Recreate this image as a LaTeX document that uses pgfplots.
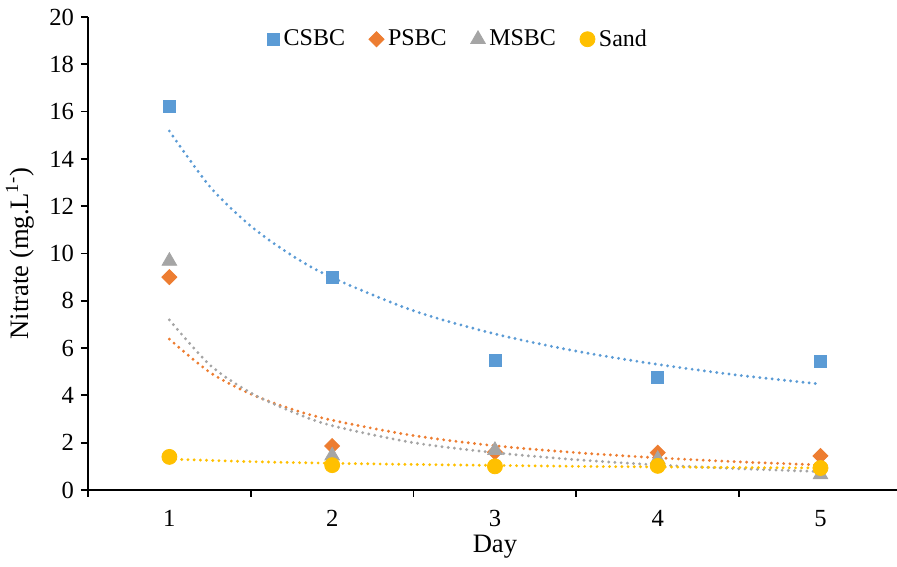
\documentclass[border=0pt]{standalone}
\usepackage{fontspec}
\setmainfont{Liberation Serif}
\usepackage{pgfplots}
\pgfplotsset{compat=1.18}
\definecolor{cblue}{HTML}{5B9BD5}
\definecolor{corange}{HTML}{ED7D31}
\definecolor{cgray}{HTML}{A5A5A5}
\definecolor{cgold}{HTML}{FFC000}
\tikzset{trend/.style={line width=1.6pt, line cap=round, dash pattern=on 0pt off 3.1pt, smooth}}
\begin{document}
\begin{tikzpicture}
\begin{axis}[
  scale only axis, width=404.5pt, height=236.5pt,
  xmin=0.5, xmax=5.47, ymin=0, ymax=20,
  axis x line=bottom, axis y line=left,
  axis line style={-, line width=0.9pt, black},
  xtick={1,2,3,4,5}, minor xtick={0.5,1.5,2.5,3.5,4.5},
  ytick={0,2,...,20},
  tick align=outside, major tick length=3.5pt, minor tick length=3.5pt,
  tick style={black, line width=0.9pt},
  major x tick style={draw=none},
  x tick label style={yshift=-3pt},
  font=\fontsize{12}{14}\selectfont,
  ticklabel style={font=\fontsize{12.3}{14}\selectfont},
  /pgf/number format/assume math mode=true,
  xlabel={Day}, ylabel={Nitrate (mg.L\textsuperscript{1-})},
  xlabel style={at={(axis description cs:0.503,-0.1205)}, anchor=center, font=\fontsize{13.3}{15}\selectfont},
  ylabel style={at={(axis description cs:-0.084,0.5)}, anchor=center, font=\fontsize{13.3}{15}\selectfont},
  legend style={draw=none, fill=none, at={(axis description cs:0.459,0.953)}, anchor=center,
    legend columns=4, font=\fontsize{12}{14}\selectfont,
    /tikz/every even column/.append style={column sep=10pt}},
  legend image code/.code={\draw[mark repeat=2,mark phase=2,#1] plot coordinates {(0pt,0pt) (4pt,0pt) (8pt,0pt)};},
]
% trendlines (power fits)
\addplot[cblue, trend, forget plot] coordinates {(1,15.18) (1.25,12.82) (1.5,11.16) (1.75,9.93) (2,8.98) (2.5,7.58) (3,6.60) (3.5,5.87) (4,5.31) (4.5,4.85) (5,4.48)};
\addplot[corange, trend, forget plot] coordinates {(1,6.38) (1.25,4.97) (1.5,4.06) (1.75,3.42) (2,2.95) (2.5,2.30) (3,1.87) (3.5,1.58) (4,1.36) (4.5,1.19) (5,1.06)};
\addplot[cgray, trend, forget plot] coordinates {(1,7.19) (1.25,5.28) (1.5,4.11) (1.75,3.32) (2,2.72) (2.5,2.0) (3,1.58) (3.5,1.28) (4,1.06) (4.5,0.90) (5,0.78)};
\addplot[cgold, trend, forget plot] coordinates {(1,1.31) (1.5,1.20) (2,1.13) (2.5,1.08) (3,1.04) (3.5,1.00) (4,0.975) (4.5,0.95) (5,0.93)};
% data
\addplot[only marks, mark=square*, mark size=3pt, mark options={draw=cblue, fill=cblue}] coordinates {(1,16.24) (2,9.0) (3,5.5) (4,4.78) (5,5.45)};
\addlegendentry{CSBC}
\addplot[only marks, mark=square*, mark size=2.65pt, mark options={draw=corange, fill=corange, rotate=45}] coordinates {(1,9.0) (2,1.86) (3,1.6) (4,1.58) (5,1.44)};
\addlegendentry{PSBC}
\addplot[only marks, mark=triangle*, mark size=4.2pt, mark options={draw=cgray, fill=cgray}] coordinates {(1,9.68) (2,1.45) (3,1.68) (4,1.3) (5,0.65)};
\addlegendentry{MSBC}
\addplot[only marks, mark=*, mark size=3.75pt, mark options={draw=cgold, fill=cgold}] coordinates {(1,1.4) (2,1.05) (3,1.0) (4,1.02) (5,0.93)};
\addlegendentry{Sand}
\coordinate (sw) at (rel axis cs:0,0);
\coordinate (ne) at (rel axis cs:1,1);
\end{axis}
\pgfresetboundingbox
\path[use as bounding box] ([shift={(-44pt,-38.5pt)}]sw) rectangle ([shift={(0pt,8.5pt)}]ne);
\end{tikzpicture}
\end{document}
